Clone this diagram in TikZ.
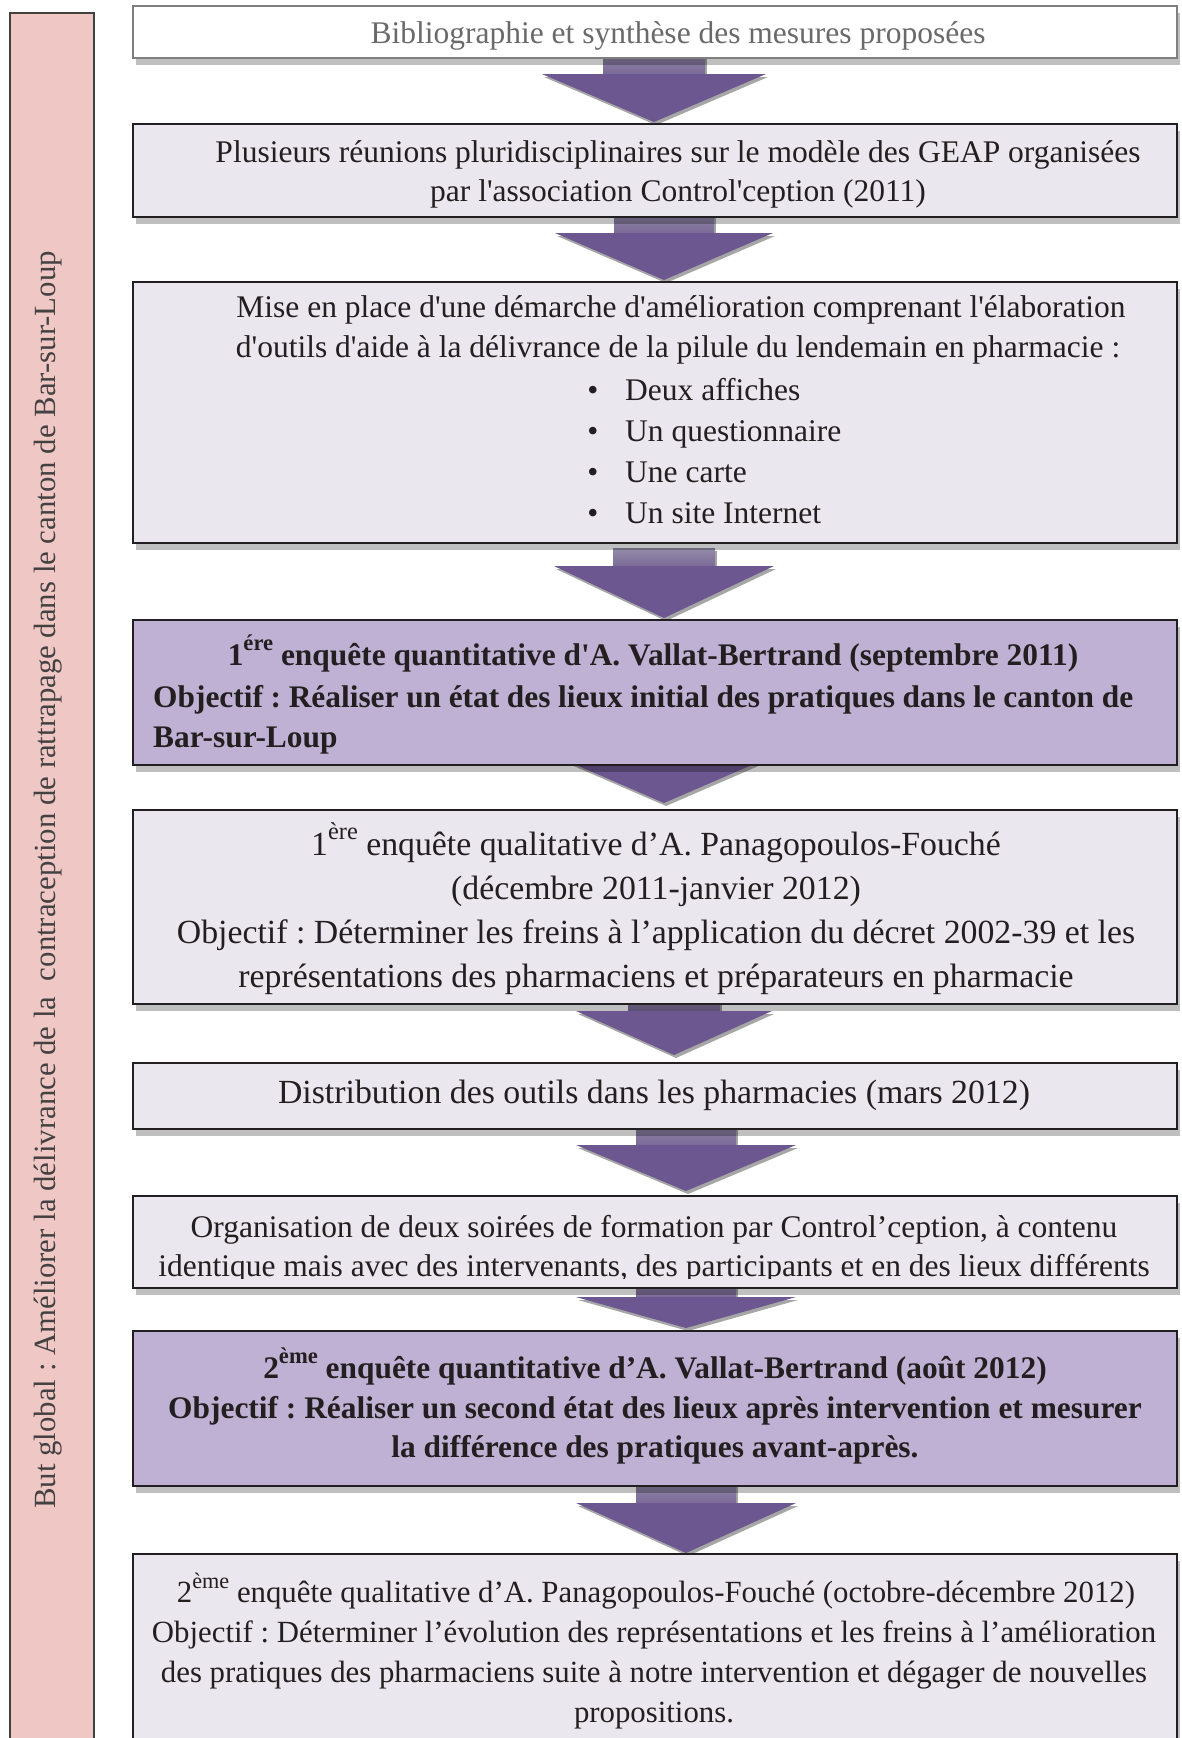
\documentclass[tikz,border=0pt]{standalone}
\usepackage{fontspec}
\setmainfont{Liberation Serif}
\usetikzlibrary{shadows}
\frenchspacing
\definecolor{boxfill}{HTML}{EAE7EF}
\definecolor{purplefill}{HTML}{BFB1D3}
\definecolor{boxline}{HTML}{231F20}
\definecolor{graytext}{HTML}{6A6A6A}
\definecolor{graybox}{HTML}{7F7F7F}
\definecolor{pinkfill}{HTML}{EFC7C4}
\definecolor{arrowtop}{HTML}{958DA8}
\definecolor{arrowmid}{HTML}{7A6A98}
\definecolor{arrowhead}{HTML}{6C5790}
\definecolor{txt}{HTML}{231F20}
\newcommand\sups[1]{\raisebox{0.45em}{\scalebox{0.72}{#1}}}
\tikzset{
  stagebox/.style={draw=boxline, line width=2pt, fill=boxfill, anchor=north west, inner sep=0pt,
    drop shadow={shadow xshift=3pt, shadow yshift=-7pt, opacity=0.25, fill=black}},
  keybox/.style={stagebox, fill=purplefill},
  firstbox/.style={stagebox, draw=graybox, fill=white},
  goalbar/.style={draw=boxline!85, line width=1.5pt, fill=pinkfill, anchor=north west, inner sep=0pt},
  linetext/.style={anchor=base, inner sep=0pt, text=txt},
  normtext/.style={linetext, font=\fontsize{31.5}{36}\selectfont},
  bigtext/.style={linetext, font=\fontsize{33.8}{38}\selectfont},
  smalltext/.style={linetext, font=\fontsize{30.8}{35}\selectfont},
  boldtext/.style={linetext, font=\fontsize{31.4}{36}\selectfont\bfseries},
  arrowshadow/.style={drop shadow={shadow xshift=2pt, shadow yshift=-3pt, opacity=0.35, fill=black}}
}
% cx, shaft top, shoulder, tip, shaft half width, head half width
\newcommand\blockarrow[6]{%
  \shade[top color=arrowtop, bottom color=arrowmid, arrowshadow] (#1-#5,#2) rectangle (#1+#5,#3);
  \fill[arrowhead, arrowshadow] (#1-#6,#3) -- (#1+#6,#3) -- (#1,#4) -- cycle;
}
\begin{document}
\begin{tikzpicture}[x=1pt,y=-1pt]
\useasboundingbox (0,0) rectangle (1181,1738);
% goal bar
\node[goalbar, minimum width=84pt, minimum height=1760pt] (goal) at (9,12) {};
\node[rotate=90, inner sep=0pt, text=txt!85, font=\fontsize{30.8}{33}\selectfont] (goaltext) at (48,880)
  {But global : Améliorer la délivrance de la \ contraception de rattrapage dans le canton de Bar-sur-Loup};

% arrows (behind boxes)
\blockarrow{654}{50}{74}{122}{51}{112}
\blockarrow{664}{210}{233}{280}{50}{109}
\blockarrow{664}{548}{566}{618}{51}{110}
\blockarrow{664}{740}{758}{803}{51}{104}
\blockarrow{674}{995}{1011}{1055}{46}{98}
\blockarrow{686}{1120}{1145}{1191}{50}{110}
\blockarrow{686}{1280}{1297}{1328}{50}{110}
\blockarrow{686}{1480}{1503}{1553}{50}{110}

% boxes
\node[firstbox, minimum width=1044pt, minimum height=52pt] (b1) at (132,5) {};
\node[stagebox, minimum width=1044pt, minimum height=93pt] (b2) at (132,123) {};
\node[stagebox, minimum width=1044pt, minimum height=261pt] (b3) at (132,281) {};
\node[keybox, minimum width=1044pt, minimum height=145pt] (b4) at (132,619) {};
\node[stagebox, minimum width=1044pt, minimum height=194pt] (b5) at (132,809) {};
\node[stagebox, minimum width=1044pt, minimum height=66pt] (b6) at (132,1062) {};
\node[stagebox, minimum width=1044pt, minimum height=92pt] (b7) at (132,1195) {};
\node[keybox, minimum width=1044pt, minimum height=155pt] (b8) at (132,1330) {};
\node[stagebox, minimum width=1044pt, minimum height=260pt] (b9) at (132,1553) {};

% texts
\node[normtext, text=graytext] (t1) at (678,43) {Bibliographie et synthèse des mesures proposées};

\node[normtext] (t2a) at (678,162) {Plusieurs réunions pluridisciplinaires sur le modèle des GEAP organisées};
\node[normtext] (t2b) at (678,201) {par l\textquotesingle association Control\textquotesingle ception (2011)};

\node[normtext] (t3a) at (681,317) {Mise en place d\textquotesingle une démarche d\textquotesingle amélioration comprenant l\textquotesingle élaboration};
\node[normtext] (t3b) at (678,357) {d\textquotesingle outils d\textquotesingle aide à la délivrance de la pilule du lendemain en pharmacie :};
\foreach \yy/\item [count=\i] in {400/Deux affiches, 441/Un questionnaire, 482/Une carte, 523/Un site Internet}{
  \node[normtext] (bul\i) at (593,\yy) {•};
  \node[normtext, anchor=base west] (item\i) at (625,\yy) {\item};
}

\node[boldtext] (t4a) at (653,665) {1\sups{ére} enquête quantitative d\textquotesingle A. Vallat-Bertrand (septembre 2011)};
\node[boldtext, anchor=base west] (t4b) at (153,707) {\makebox[980pt][s]{Objectif : Réaliser un état des lieux initial des pratiques dans le canton de}};
\node[boldtext, anchor=base west] (t4c) at (153,747) {Bar-sur-Loup};

\node[bigtext] (t5a) at (656,855) {1\sups{ère} enquête qualitative d’A. Panagopoulos-Fouché};
\node[bigtext] (t5b) at (656,899) {(décembre 2011-janvier 2012)};
\node[bigtext] (t5c) at (656,943) {Objectif : Déterminer les freins à l’application du décret 2002-39 et les};
\node[bigtext] (t5d) at (656,987) {représentations des pharmaciens et préparateurs en pharmacie};

\node[bigtext] (t6) at (654,1103) {Distribution des outils dans les pharmacies (mars 2012)};

\begin{scope}
  \clip (133,1196) rectangle (1175,1278);
  \node[normtext] (t7a) at (654,1237) {Organisation de deux soirées de formation par Control’ception, à contenu};
  \node[normtext] (t7b) at (654,1276) {identique mais avec des intervenants, des participants et en des lieux différents};
\end{scope}

\node[boldtext] (t8a) at (655,1378) {2\sups{ème} enquête quantitative d’A. Vallat-Bertrand (août 2012)};
\node[boldtext] (t8b) at (655,1418) {Objectif : Réaliser un second état des lieux après intervention et mesurer};
\node[boldtext] (t8c) at (655,1457) {la différence des pratiques avant-après.};

\node[smalltext] (t9a) at (656,1602) {2\sups{ème} enquête qualitative d’A. Panagopoulos-Fouché (octobre-décembre 2012)};
\node[smalltext] (t9b) at (654,1642) {Objectif : Déterminer l’évolution des représentations et les freins à l’amélioration};
\node[smalltext] (t9c) at (654,1682) {des pratiques des pharmaciens suite à notre intervention et dégager de nouvelles};
\node[smalltext] (t9d) at (654,1722) {propositions.};
\end{tikzpicture}
\end{document}
